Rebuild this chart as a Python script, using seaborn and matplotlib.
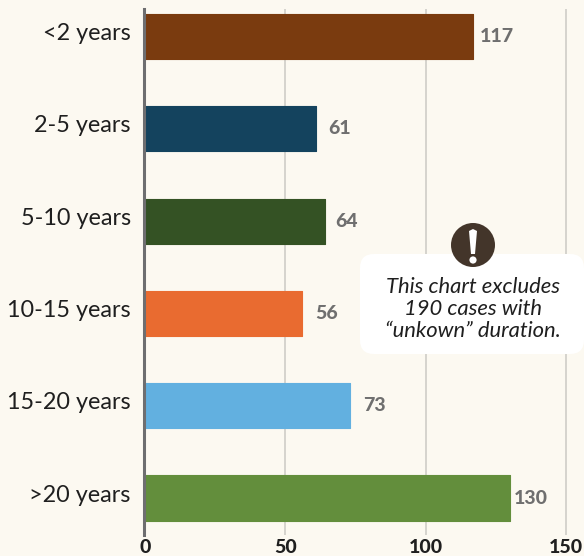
import matplotlib
matplotlib.use('Agg')
import matplotlib.pyplot as plt
import seaborn as sns
import pandas as pd
from matplotlib.patches import Circle, FancyBboxPatch, Polygon
from matplotlib.transforms import ScaledTranslation

# data
durations = ['<2 years', '2-5 years', '5-10 years', '10-15 years', '15-20 years', '>20 years']
cases = [117, 61, 64, 56, 73, 130]
bar_colors = ['#7A3B0F', '#14435E', '#345224', '#E96B30', '#62B0E0', '#638E3C']
note_lines = ['This chart excludes', '190 cases with', '\u201cunkown\u201d duration.']
# gap between bar end and its number, in pixels
label_gaps = [6, 12, 11, 13, 13, 4]

BG = '#FCF9F1'

sns.set_theme(style='white')
plt.rcParams['font.family'] = ['Lato', 'DejaVu Sans']

W, H = 584, 556
fig = plt.figure(figsize=(W / 100, H / 100), dpi=100, facecolor=BG)
ax = fig.add_axes([145 / W, 1 - 535 / H, (W - 145) / W, (535 - 9) / H], facecolor=BG)

df = pd.DataFrame({'duration': durations, 'cases': cases})
sns.barplot(data=df, y='duration', x='cases', hue='duration', palette=bar_colors,
            legend=False, width=0.49, ax=ax, zorder=3, saturation=1)
for bar in ax.patches:
    bar.set_edgecolor(bar.get_facecolor())
    bar.set_linewidth(0.8)
    bar.set_joinstyle('round')

ax.set_xlim(0, 156.4)
ax.set_ylim(5.4, -0.298)
ax.set_xticks([0, 50, 100, 150])
ax.set_xlabel('')
ax.set_ylabel('')
ax.grid(axis='x', color='#CFCDC8', linewidth=1.2, zorder=0)
ax.grid(axis='y', visible=False)
sns.despine(ax=ax, left=False, right=True, top=True, bottom=True)
ax.spines['left'].set_color('#6E6E70')
ax.spines['left'].set_linewidth(2.2)
ax.spines['left'].set_position(('outward', 0.7))
ax.spines['left'].set_zorder(5)

ax.tick_params(axis='y', length=0, pad=9.5, labelsize=16.8, labelcolor='#1F1F1F')
ax.tick_params(axis='x', length=0, pad=3, labelsize=14, labelcolor='#1F1F1F')
for lab in ax.get_xticklabels():
    lab.set_fontweight('black')
shift = ScaledTranslation(0, 5 / 100, fig.dpi_scale_trans)
for lab in ax.get_yticklabels():
    lab.set_transform(lab.get_transform() + shift)

for i, (v, gap) in enumerate(zip(cases, label_gaps)):
    ax.annotate(str(v), xy=(v, i), xytext=(gap * 0.72, 0), textcoords='offset points',
                va='center', ha='left', fontsize=14, fontweight='black', color='#6F6F6F', zorder=6)

# callout drawn on an overlay in pixel coordinates
ov = fig.add_axes([0, 0, 1, 1], facecolor='none')
ov.set_xlim(0, W)
ov.set_ylim(H, 0)
ov.axis('off')
ov.add_patch(FancyBboxPatch((360, 254), 224, 100, boxstyle='round,pad=0,rounding_size=14',
                            facecolor='white', edgecolor='none', clip_on=False))
ov.add_patch(Circle((473, 245), 22, facecolor='#43352A', edgecolor='none', zorder=3))
ov.add_patch(Polygon([(469, 231), (473, 229), (477, 231), (475, 254), (471, 254)],
                     closed=True, facecolor='white', edgecolor='none', zorder=4))
ov.add_patch(Circle((473, 260), 3.6, facecolor='white', edgecolor='none', zorder=4))
for y, line in zip([287, 309, 331], note_lines):
    ov.text(473, y, line, ha='center', va='center', fontsize=15.8, fontstyle='italic',
            color='#1F1F1F', zorder=4)

fig.savefig('out.png', dpi=100, facecolor=BG)
